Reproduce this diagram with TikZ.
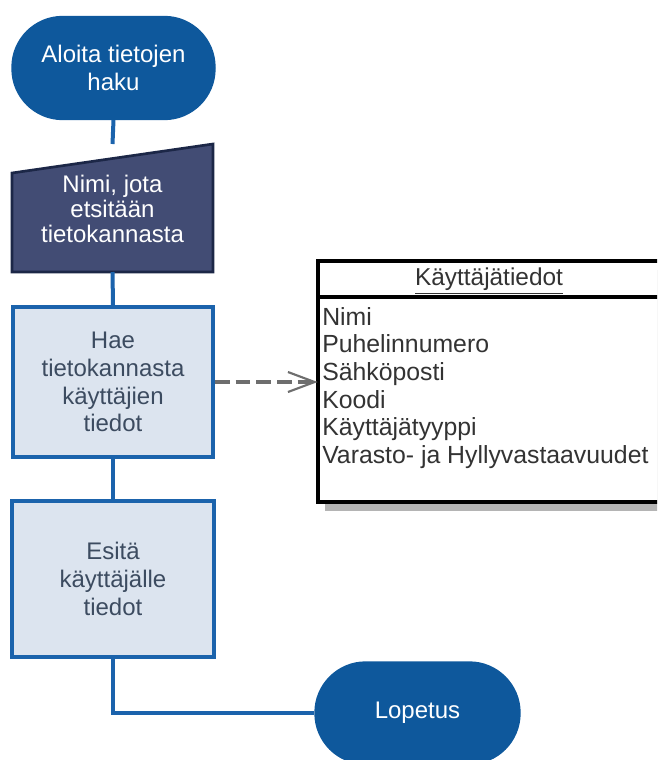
\documentclass[tikz,border=0pt]{standalone}
\usepackage{fontspec}
\setmainfont{Liberation Sans}
\usetikzlibrary{calc,arrows.meta}

\definecolor{termblue}{HTML}{0E589C}
\definecolor{flowblue}{HTML}{1B63AC}
\definecolor{boxfill}{HTML}{DCE4EF}
\definecolor{inputfill}{HTML}{424C74}
\definecolor{inputedge}{HTML}{1C2747}
\definecolor{boxtext}{HTML}{3C4B60}
\definecolor{listtext}{HTML}{333333}
\definecolor{shadowgray}{HTML}{B4B4B4}
\definecolor{dashgray}{HTML}{6E6E6E}

\begin{document}
\begin{tikzpicture}[x=0.75pt,y=-0.75pt,
  terminal/.style={draw=termblue, fill=termblue, line width=1pt,
    rounded corners=38pt, text=white, align=center, inner sep=0pt,
    font=\fontsize{18}{20.5}\selectfont},
  process/.style={draw=flowblue, fill=boxfill, line width=3pt,
    text=boxtext, align=center, inner sep=0pt},
  frame/.style={inner sep=0pt, outer sep=0pt},
  flow/.style={draw=flowblue, line width=3pt},
  depend/.style={draw=dashgray, line width=3pt, dash pattern=on 11pt off 4.5pt,
    -{Straight Barb[length=20pt, width=15pt, line width=1.6pt]}},
]
\clip (0,0) rectangle (657,760);

% start / end terminals
\node[terminal, minimum width=152.25pt, minimum height=77.25pt] (start) at (113.5,68)
  {Aloita tietojen\\haku};
\node[terminal, minimum width=153.75pt, minimum height=76.5pt] (lop) at (417.5,713)
  {Lopetus};

% manual input: frame node plus slanted outline
\node[frame, minimum width=150.75pt, minimum height=96pt] (inp) at (112.5,208) {};
\draw[fill=inputfill, draw=inputedge, line width=2pt]
  ($(inp.north west)+(0,29)$) -- (inp.north east) -- (inp.south east)
  -- (inp.south west) -- cycle;
\node[text=white, align=center, font=\fontsize{18}{19}\selectfont] (inptext) at (112.5,209)
  {Nimi, jota\\etsitään\\tietokannasta};

% process boxes
\node[process, minimum width=150pt, minimum height=112.5pt,
  font=\fontsize{18}{20.8}\selectfont] (hae) at (113,382)
  {Hae\\tietokannasta\\käyttäjien\\tiedot};
\node[process, minimum width=151.5pt, minimum height=117pt,
  font=\fontsize{18}{21}\selectfont] (esita) at (113,579)
  {Esitä\\käyttäjälle\\tiedot};

% data table with drop shadow
\fill[shadowgray] (325,270) rectangle (700,511);
\node[frame, draw=black, fill=white, line width=3pt,
  minimum width=287pt, minimum height=180.75pt] (tbl) at (509,381.5) {};
\draw[black, line width=3pt] ($(tbl.north west)+(0,36)$) -- ($(tbl.north east)+(0,36)$);
\node[text=listtext, font=\fontsize{18.3}{20}\selectfont] (tblhead) at (489,281)
  {\underline{Käyttäjätiedot}};
\node[text=listtext, anchor=north west, align=left, inner sep=0pt,
  font=\fontsize{18.6}{20.7}\selectfont] (tblrows) at (322,307)
  {Nimi\\Puhelinnumero\\Sähköposti\\Koodi\\Käyttäjätyyppi\\Varasto- ja Hyllyvastaavuudet};

% connectors
\draw[flow] (start.south) -- (inp.north);
\draw[flow] (inp.south) -- (hae.north);
\draw[flow] (hae.south) -- (esita.north);
\draw[flow] (esita.south) |- (lop.west);
\draw[depend] (hae.east) -- (hae.east -| tbl.west);
\end{tikzpicture}
\end{document}
